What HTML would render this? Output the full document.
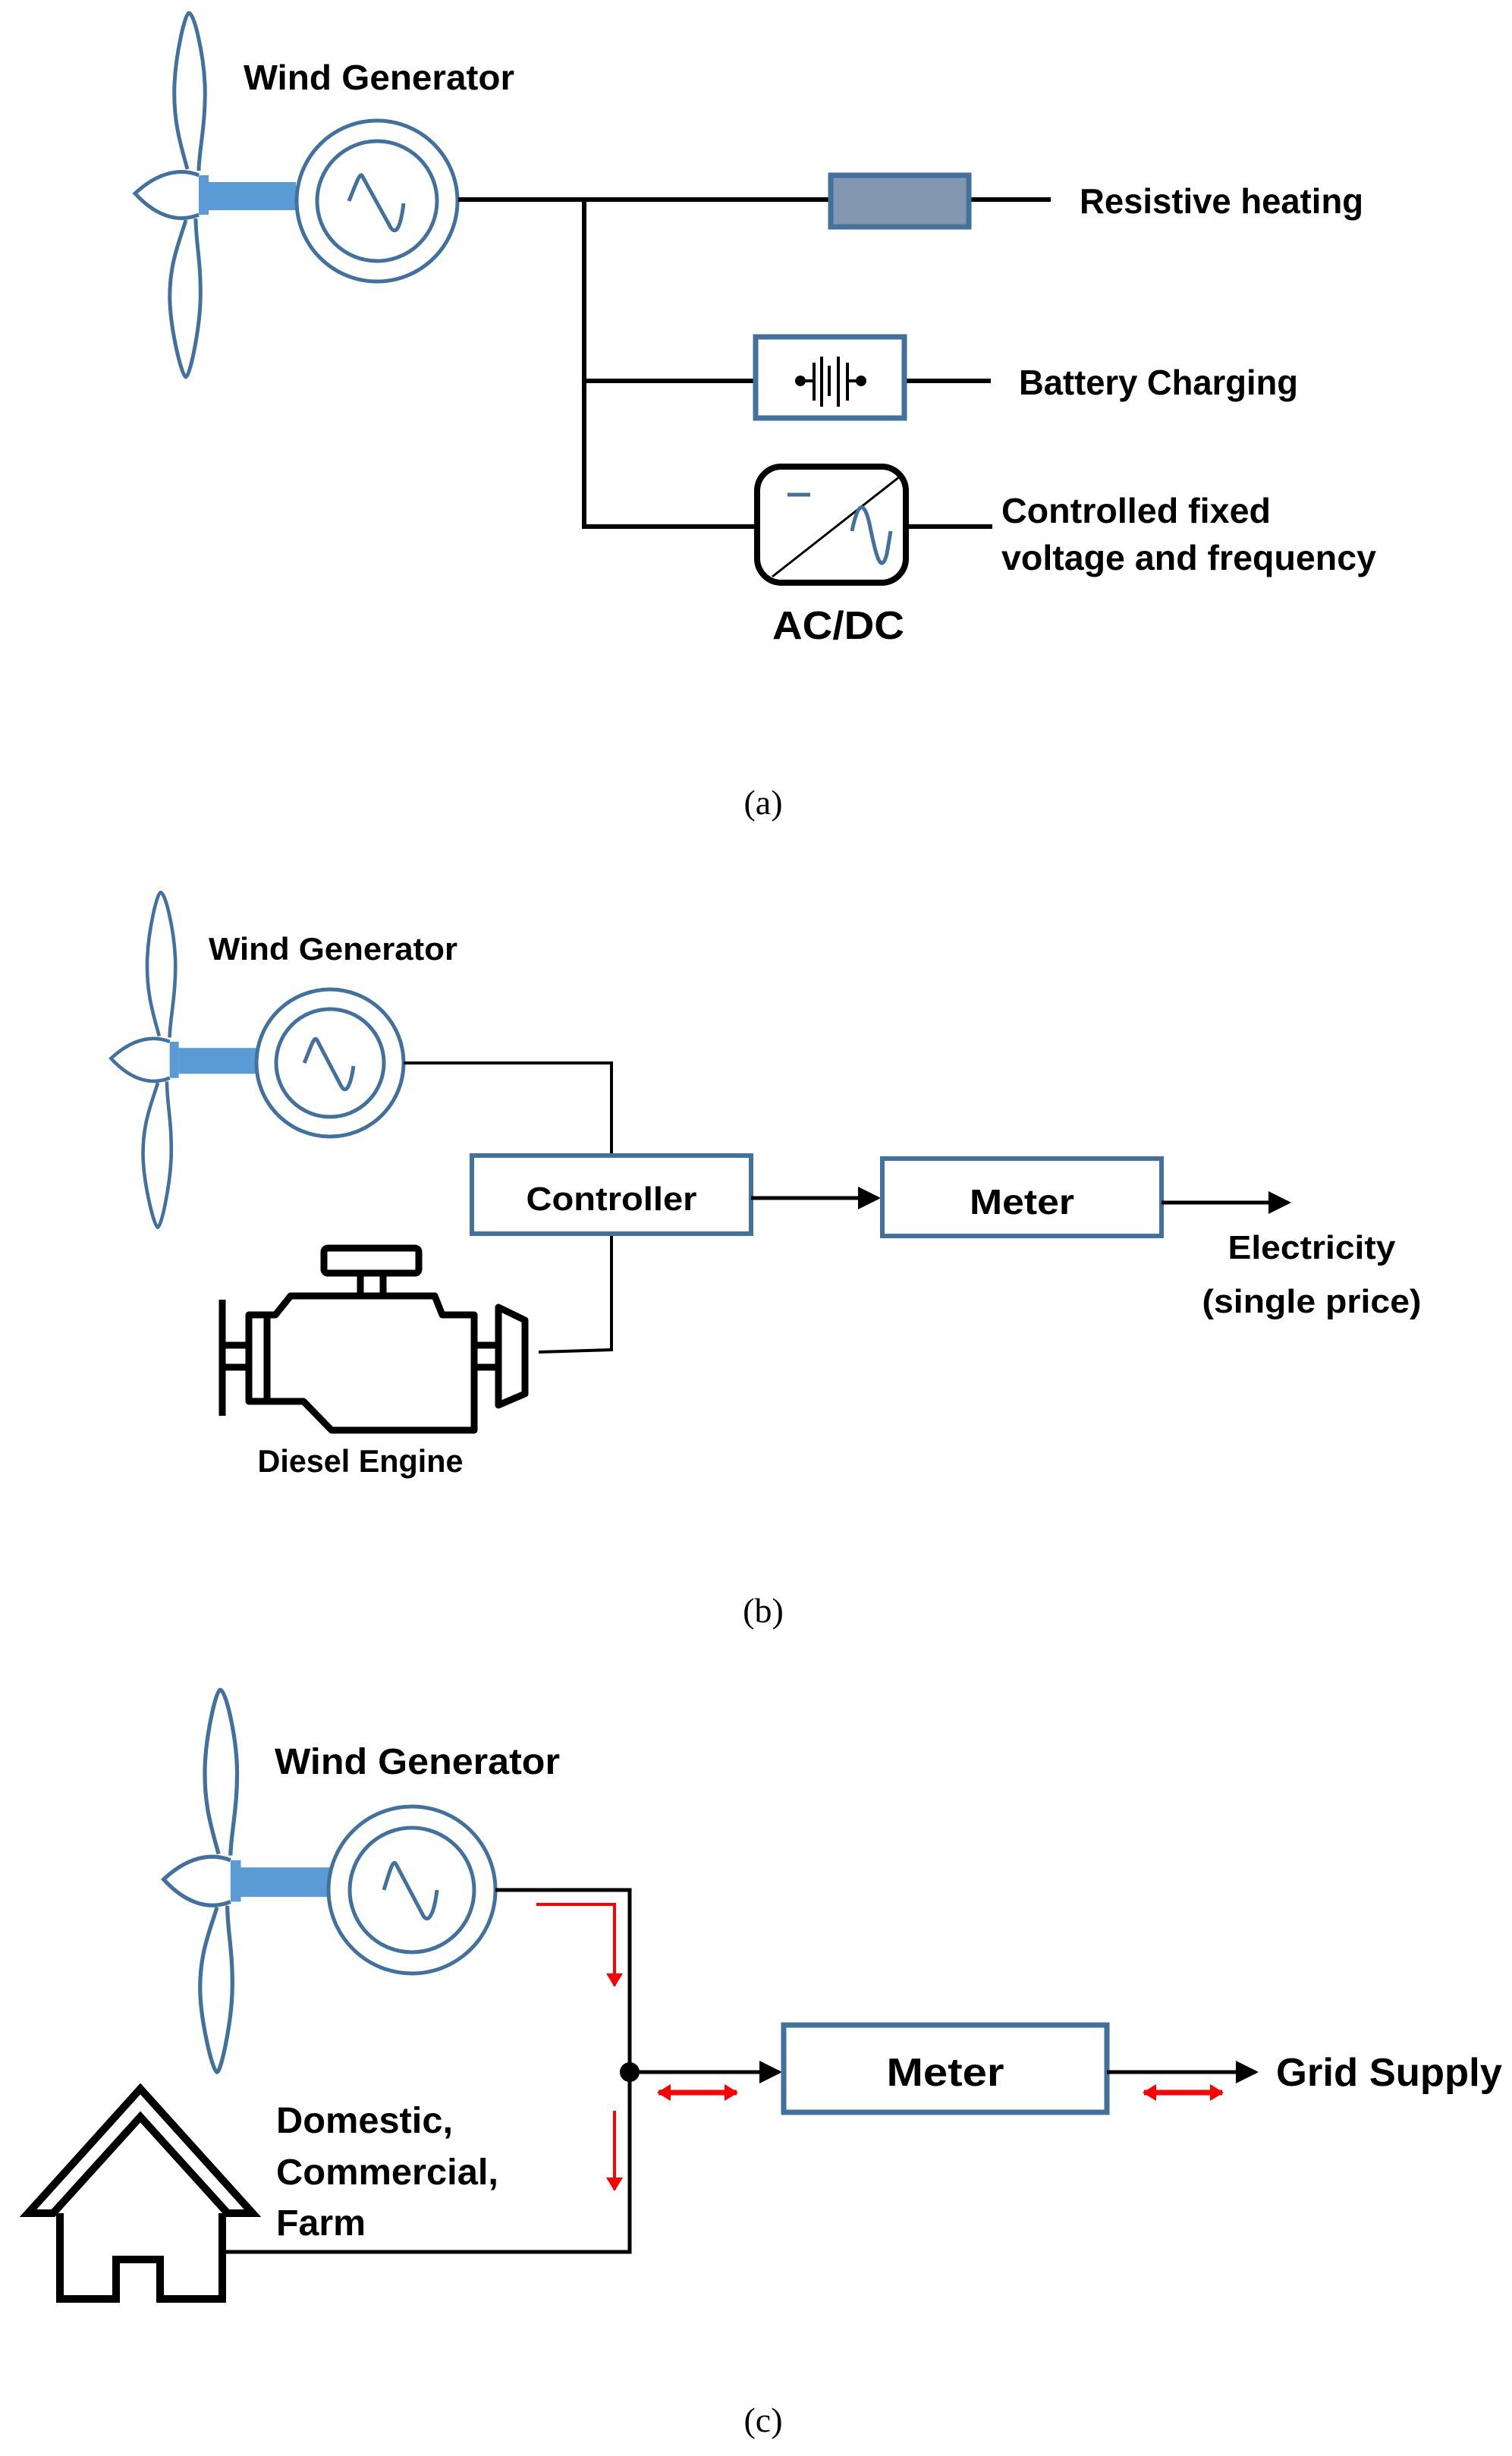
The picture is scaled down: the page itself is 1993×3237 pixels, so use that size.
<!DOCTYPE html>
<html><head><meta charset="utf-8"><style>
html,body{margin:0;padding:0;background:#fff;}
svg{display:block;}
text{font-family:"Liberation Sans",sans-serif;font-weight:bold;fill:#000;}
.cap{font-family:"Liberation Serif",serif;font-weight:normal;font-size:46px;}
</style></head><body>
<svg width="1993" height="3237" viewBox="0 0 1993 3237" xmlns="http://www.w3.org/2000/svg">
<defs>
<marker id="ahb" markerWidth="30" markerHeight="30" refX="26" refY="15" orient="auto" markerUnits="userSpaceOnUse" viewBox="0 0 30 30"><path d="M0,0 L30,15 L0,30 Z" fill="#000"/></marker>
<marker id="ar" markerWidth="18" markerHeight="22" refX="16" refY="11" orient="auto" markerUnits="userSpaceOnUse" viewBox="0 0 18 22"><path d="M0,0 L18,11 L0,22 Z" fill="#f00"/></marker>
<marker id="arl" markerWidth="18" markerHeight="22" refX="16" refY="11" orient="auto-start-reverse" markerUnits="userSpaceOnUse" viewBox="0 0 18 22"><path d="M0,0 L18,11 L0,22 Z" fill="#f00"/></marker>
<g id="turb">
<path d="M2,-32 C-7,-65 -17,-95 -15,-145 C-13,-185 -1,-238 4,-238 C11,-238 23,-185 25,-145 C27,-95 17,-55 17,-30" fill="none" stroke="#41719c" stroke-width="5"/>
<path d="M0,35 C-9,65 -23,95 -21,145 C-19,185 -5,242 0,242 C5,242 17,185 19,145 C21,95 13,65 13,33" fill="none" stroke="#41719c" stroke-width="5"/>
<path d="M17,-24 C-5,-33 -35,-30 -67,0 C-35,35 -5,37 17,28" fill="none" stroke="#41719c" stroke-width="5"/>
<rect x="17" y="-24" width="13" height="52" fill="#5b9bd5"/>
<rect x="30" y="-15" width="115" height="37" fill="#5b9bd5"/>
</g>
</defs>

<!-- ===== (a) ===== -->
<use href="#turb" transform="translate(245,255)"/>
<circle cx="497" cy="265" r="106" fill="#fff" stroke="#41719c" stroke-width="5"/>
<circle cx="497" cy="265" r="79" fill="none" stroke="#41719c" stroke-width="5"/>
<path d="M460,265 C470,240 475,225 478,233 L515,300 C522,310 528,300 532,268" fill="none" stroke="#41719c" stroke-width="5"/>
<text x="321" y="118" font-size="46" textLength="357" lengthAdjust="spacingAndGlyphs">Wind Generator</text>
<g stroke="#000" stroke-width="6" fill="none">
<path d="M604,263 L1095,263"/>
<path d="M1277,263 L1385,263"/>
<path d="M770,263 L770,694 L998,694"/>
<path d="M770,502 L996,502"/>
<path d="M1192,502 L1306,502"/>
<path d="M1194,694 L1308,694"/>
</g>
<rect x="1095" y="231" width="182" height="68" fill="#8497b0" stroke="#41719c" stroke-width="7"/>
<text x="1423" y="281" font-size="46" textLength="374" lengthAdjust="spacingAndGlyphs">Resistive heating</text>
<rect x="996" y="444" width="196" height="107" fill="#fff" stroke="#41719c" stroke-width="7"/>
<g stroke="#000" stroke-width="4" transform="translate(11,0)">
<line x1="1044" y1="502" x2="1062" y2="502"/>
<line x1="1108" y1="502" x2="1124" y2="502"/>
<line x1="1062" y1="478" x2="1062" y2="528"/>
<line x1="1072" y1="470" x2="1072" y2="536"/>
<line x1="1082" y1="482" x2="1082" y2="522"/>
<line x1="1094" y1="470" x2="1094" y2="536"/>
<line x1="1106" y1="478" x2="1106" y2="528"/>
</g>
<circle cx="1055" cy="502" r="7" fill="#000"/><circle cx="1135" cy="502" r="7" fill="#000"/>
<text x="1343" y="520" font-size="46" textLength="368" lengthAdjust="spacingAndGlyphs">Battery Charging</text>
<rect x="998" y="615" width="196" height="153" rx="32" fill="#fff" stroke="#000" stroke-width="8"/>
<line x1="1018" y1="760" x2="1190" y2="625" stroke="#000" stroke-width="3"/>
<line x1="1038" y1="652" x2="1068" y2="652" stroke="#41719c" stroke-width="5"/>
<path d="M1123,700 C1131,660 1139,660 1146,690 C1154,730 1161,760 1169,730 L1174,700" fill="none" stroke="#41719c" stroke-width="5"/>
<text x="1320" y="689" font-size="46" textLength="355" lengthAdjust="spacingAndGlyphs">Controlled fixed</text>
<text x="1320" y="751" font-size="46" textLength="494" lengthAdjust="spacingAndGlyphs">voltage and frequency</text>
<text x="1018" y="842" font-size="52" textLength="174" lengthAdjust="spacingAndGlyphs">AC/DC</text>
<text class="cap" x="1006" y="1073" text-anchor="middle">(a)</text>

<!-- ===== (b) ===== -->
<use href="#turb" transform="translate(208,1395) scale(0.92)"/>
<circle cx="435" cy="1401" r="97" fill="#fff" stroke="#41719c" stroke-width="5"/>
<circle cx="435" cy="1401" r="71" fill="none" stroke="#41719c" stroke-width="5"/>
<path d="M401,1401 C410,1380 414,1364 418,1371 L450,1432 C456,1442 462,1432 466,1405" fill="none" stroke="#41719c" stroke-width="5"/>
<text x="275" y="1265" font-size="42" textLength="328" lengthAdjust="spacingAndGlyphs">Wind Generator</text>
<g stroke="#000" stroke-width="4" fill="none">
<path d="M532,1401 L806,1401 L806,1523"/>
<path d="M806,1626 L806,1779 L710,1782"/>
</g>
<rect x="622" y="1523" width="368" height="103" fill="#fff" stroke="#41719c" stroke-width="6"/>
<text x="806" y="1595" font-size="44" text-anchor="middle" textLength="225" lengthAdjust="spacingAndGlyphs">Controller</text>
<line x1="990" y1="1579" x2="1157" y2="1579" stroke="#000" stroke-width="5" marker-end="url(#ahb)"/>
<rect x="1163" y="1527" width="368" height="102" fill="#fff" stroke="#41719c" stroke-width="6"/>
<text x="1347" y="1600" font-size="46" text-anchor="middle" textLength="138" lengthAdjust="spacingAndGlyphs">Meter</text>
<line x1="1531" y1="1585" x2="1698" y2="1585" stroke="#000" stroke-width="5" marker-end="url(#ahb)"/>
<text x="1729" y="1659" font-size="44" text-anchor="middle" textLength="221" lengthAdjust="spacingAndGlyphs">Electricity</text>
<text x="1729" y="1730" font-size="44" text-anchor="middle" textLength="289" lengthAdjust="spacingAndGlyphs">(single price)</text>
<g stroke="#000" stroke-width="9" fill="none" stroke-linejoin="round">
<line x1="293" y1="1713" x2="293" y2="1866"/>
<line x1="293" y1="1773" x2="328" y2="1773"/>
<line x1="293" y1="1802" x2="328" y2="1802"/>
<path d="M328,1733 L363,1733 L383,1708 L573,1708 L583,1733 L625,1733 L625,1885 L437,1885 L400,1847 L328,1847 Z"/>
<line x1="352" y1="1733" x2="352" y2="1847"/>
<rect x="427" y="1645" width="125" height="33" rx="5"/>
<line x1="475" y1="1678" x2="475" y2="1708"/>
<line x1="505" y1="1678" x2="505" y2="1708"/>
<line x1="625" y1="1773" x2="657" y2="1773"/>
<line x1="625" y1="1802" x2="657" y2="1802"/>
<path d="M657,1723 L692,1740 L692,1837 L657,1852 Z"/>
</g>
<text x="475" y="1940" font-size="42" text-anchor="middle" textLength="271" lengthAdjust="spacingAndGlyphs">Diesel Engine</text>
<text class="cap" x="1006" y="2138" text-anchor="middle">(b)</text>

<!-- ===== (c) ===== -->
<use href="#turb" transform="translate(286,2477) scale(1.05)"/>
<circle cx="543" cy="2491" r="110" fill="#fff" stroke="#41719c" stroke-width="5"/>
<circle cx="543" cy="2491" r="82" fill="none" stroke="#41719c" stroke-width="5"/>
<path d="M506,2491 C514,2465 518,2450 522,2457 L558,2525 C564,2535 572,2525 576,2491" fill="none" stroke="#41719c" stroke-width="5"/>
<text x="362" y="2338" font-size="48" textLength="376" lengthAdjust="spacingAndGlyphs">Wind Generator</text>
<g stroke="#000" stroke-width="5" fill="none">
<path d="M653,2491 L830,2491 L830,2968 L296,2968"/>
</g>
<circle cx="830" cy="2731" r="13" fill="#000"/>
<line x1="830" y1="2731" x2="1027" y2="2731" stroke="#000" stroke-width="5" marker-end="url(#ahb)"/>
<rect x="1033" y="2669" width="426" height="115" fill="#fff" stroke="#41719c" stroke-width="7"/>
<text x="1246" y="2749" font-size="52" text-anchor="middle" textLength="155" lengthAdjust="spacingAndGlyphs">Meter</text>
<line x1="1459" y1="2731" x2="1655" y2="2731" stroke="#000" stroke-width="5" marker-end="url(#ahb)"/>
<text x="1682" y="2749" font-size="52" textLength="298" lengthAdjust="spacingAndGlyphs">Grid Supply</text>
<g stroke="#f00" stroke-width="4" fill="none">
<path d="M707,2510 L810,2510 L810,2617" marker-end="url(#ar)"/>
<path d="M810,2782 L810,2886" marker-end="url(#ar)"/>
<line x1="868" y1="2758" x2="971" y2="2758" stroke-width="7" marker-start="url(#arl)" marker-end="url(#ar)"/>
<line x1="1508" y1="2758" x2="1611" y2="2758" stroke-width="7" marker-start="url(#arl)" marker-end="url(#ar)"/>
</g>
<g stroke="#000" stroke-width="10" fill="none" stroke-linejoin="miter">
<path d="M37,2917 L185,2753 L333,2917 L300,2917 L185,2790 L70,2917 Z"/>
<path d="M79,2917 L79,3030 L153,3030 L153,2978 L211,2978 L211,3030 L293,3030 L293,2917"/>
</g>
<text x="364" y="2811" font-size="48" textLength="233" lengthAdjust="spacingAndGlyphs">Domestic,</text>
<text x="364" y="2879" font-size="48" textLength="293" lengthAdjust="spacingAndGlyphs">Commercial,</text>
<text x="364" y="2946" font-size="48" textLength="118" lengthAdjust="spacingAndGlyphs">Farm</text>
<text class="cap" x="1006" y="3205" text-anchor="middle">(c)</text>
</svg>
</body></html>
